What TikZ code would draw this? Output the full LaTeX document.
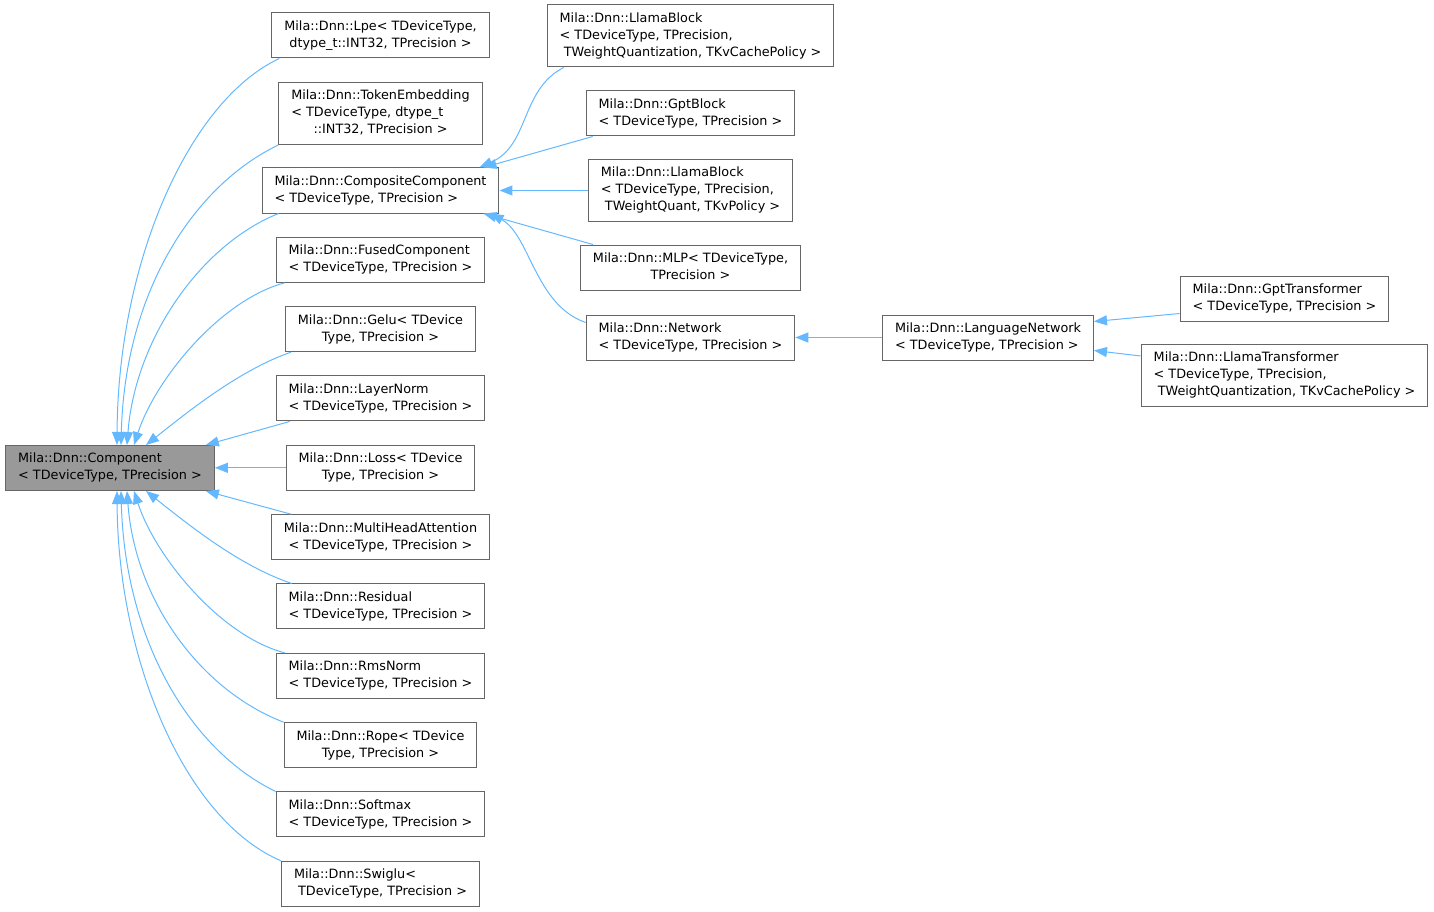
\documentclass[tikz,border=0pt]{standalone}
\usepackage{fontspec}
\setmainfont{DejaVu Sans}
\usetikzlibrary{arrows.meta}
\definecolor{edgeblue}{HTML}{63B8FF}
\definecolor{boxgray}{HTML}{666666}
\definecolor{focalgray}{HTML}{999999}
\newcommand{\ctr}[1]{\multicolumn{1}{@{}c@{}}{#1}}
\newcommand{\lbl}[1]{\begin{tabular}{@{}l@{}}#1\end{tabular}}
\tikzset{
  cls/.style={draw=boxgray, fill=white, line width=1pt, inner xsep=12.5pt,
    inner ysep=5.5pt, font=\fontsize{12.8}{17}\selectfont},
  focal/.style={cls, fill=focalgray},
  inherit/.style={draw=edgeblue, line width=1pt,
    -{Triangle[length=13pt,width=10pt]}},
}
\begin{document}
\begin{tikzpicture}[x=1pt, y=-1pt, node distance=69.33pt]
\useasboundingbox (0,0) rectangle (1434,912);
% base class
\node[focal] (comp) at (110,468) {\lbl{Mila::Dnn::Component\\< TDeviceType, TPrecision >}};
% first level
\node[cls] (lpe) at (380.5,35.5) {\lbl{Mila::Dnn::Lpe< TDeviceType,\\\ctr{dtype\_t::INT32, TPrecision >}}};
\node[cls] (tokemb) at (380.5,113.5) {\lbl{Mila::Dnn::TokenEmbedding\\< TDeviceType, dtype\_t\\\ctr{::INT32, TPrecision >}}};
\node[cls] (cc) at (380.5,190.5) {\lbl{Mila::Dnn::CompositeComponent\\< TDeviceType, TPrecision >}};
\node[cls] (fused) [below of=cc] {\lbl{Mila::Dnn::FusedComponent\\< TDeviceType, TPrecision >}};
\node[cls] (gelu) [below of=fused] {\lbl{Mila::Dnn::Gelu< TDevice\\\ctr{Type, TPrecision >}}};
\node[cls] (layernorm) [below of=gelu] {\lbl{Mila::Dnn::LayerNorm\\< TDeviceType, TPrecision >}};
\node[cls] (loss) [below of=layernorm] {\lbl{Mila::Dnn::Loss< TDevice\\\ctr{Type, TPrecision >}}};
\node[cls] (mha) [below of=loss] {\lbl{Mila::Dnn::MultiHeadAttention\\\ctr{< TDeviceType, TPrecision >}}};
\node[cls] (residual) [below of=mha] {\lbl{Mila::Dnn::Residual\\< TDeviceType, TPrecision >}};
\node[cls] (rmsnorm) [below of=residual] {\lbl{Mila::Dnn::RmsNorm\\< TDeviceType, TPrecision >}};
\node[cls] (rope) [below of=rmsnorm] {\lbl{Mila::Dnn::Rope< TDevice\\\ctr{Type, TPrecision >}}};
\node[cls] (softmax) [below of=rope] {\lbl{Mila::Dnn::Softmax\\< TDeviceType, TPrecision >}};
\node[cls] (swiglu) [below of=softmax] {\lbl{Mila::Dnn::Swiglu<\\\ TDeviceType, TPrecision >}};
% composite children
\node[cls] (lb2) at (690.5,190.5) {\lbl{Mila::Dnn::LlamaBlock\\< TDeviceType, TPrecision,\\\ TWeightQuant, TKvPolicy >}};
\node[cls] (gptb) [above of=lb2, node distance=77pt] {\lbl{Mila::Dnn::GptBlock\\< TDeviceType, TPrecision >}};
\node[cls] (lb1) [above of=gptb, node distance=77.5pt] {\lbl{Mila::Dnn::LlamaBlock\\< TDeviceType, TPrecision,\\\ TWeightQuantization, TKvCachePolicy >}};
\node[cls] (mlp) [below of=lb2, node distance=77pt] {\lbl{Mila::Dnn::MLP< TDeviceType,\\\ctr{TPrecision >}}};
\node[cls] (net) [below of=mlp, node distance=70pt] {\lbl{Mila::Dnn::Network\\< TDeviceType, TPrecision >}};
\node[cls] (lang) [right of=net, node distance=297.5pt] {\lbl{Mila::Dnn::LanguageNetwork\\< TDeviceType, TPrecision >}};
\node[cls] (gpttr) at (1284.5,298.5) {\lbl{Mila::Dnn::GptTransformer\\< TDeviceType, TPrecision >}};
\node[cls] (llamatr) at (1284.5,375.5) {\lbl{Mila::Dnn::LlamaTransformer\\< TDeviceType, TPrecision,\\\ TWeightQuantization, TKvCachePolicy >}};
% edges into Component
\draw[inherit] ([xshift=8pt]lpe.south west) .. controls (190,100) and (118,260) .. ([xshift=7pt]comp.north);
\draw[inherit] (tokemb.south west) .. controls (195,185) and (125,290) .. ([xshift=11pt]comp.north);
\draw[inherit] ([xshift=17pt]cc.south west) .. controls (200,245) and (135,340) .. ([xshift=17pt]comp.north);
\draw[inherit] ([xshift=9pt]fused.south west) .. controls (220,300) and (155,380) .. ([xshift=24pt]comp.north);
\draw[inherit] ([xshift=6pt]gelu.south west) .. controls (240,370) and (190,410) .. ([xshift=36pt]comp.north);
\draw[inherit] ([xshift=14pt]layernorm.south west) -- ([xshift=-9pt]comp.north east);
\draw[inherit] (loss.west) -- (comp.east |- loss.west);
\draw[inherit] ([xshift=20pt]mha.north west) -- ([xshift=-9pt]comp.south east);
\draw[inherit] ([xshift=16pt]residual.north west) .. controls (240,566) and (190,526) .. ([xshift=36pt]comp.south);
\draw[inherit] ([xshift=9pt]rmsnorm.north west) .. controls (220,636) and (155,556) .. ([xshift=24pt]comp.south);
\draw[inherit] (rope.north west) .. controls (200,690) and (135,600) .. ([xshift=17pt]comp.south);
\draw[inherit] (softmax.north west) .. controls (190,750) and (125,640) .. ([xshift=11pt]comp.south);
\draw[inherit] (swiglu.north west) .. controls (185,820) and (118,660) .. ([xshift=7pt]comp.south);
% edges into CompositeComponent
\draw[inherit] ([xshift=17pt]lb1.south west) .. controls (520,90) and (530,145) .. ([xshift=-20pt]cc.north east);
\draw[inherit] ([xshift=7pt]gptb.south west) -- ([xshift=-16pt]cc.north east);
\draw[inherit] (lb2.west) -- (cc.east);
\draw[inherit] ([xshift=13pt]mlp.north west) -- ([xshift=-16pt]cc.south east);
\draw[inherit] ([yshift=-8pt]net.north west) .. controls (535,305) and (530,235) .. ([xshift=-9pt]cc.south east);
% network chain
\draw[inherit] (lang.west) -- (net.east);
\draw[inherit] ([yshift=8pt]gpttr.south west) -- ([yshift=-7pt]lang.north east);
\draw[inherit] ([yshift=-12pt]llamatr.north west) -- ([yshift=10pt]lang.south east);
\end{tikzpicture}
\end{document}
